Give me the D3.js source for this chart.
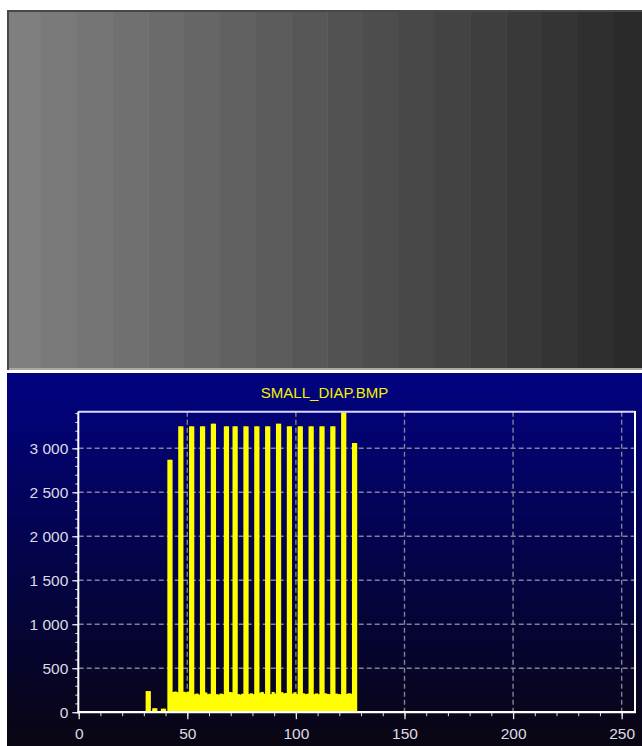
<!DOCTYPE html>
<html><head><meta charset="utf-8">
<script src="https://cdn.jsdelivr.net/npm/d3@7"></script>
<style>html,body{margin:0;padding:0;background:#fff;overflow:hidden}svg{display:block}</style>
</head><body>
<svg id="c" width="642" height="746"></svg>
<script>
// ---- data ----
const bandGray = [127,122,117,112,107,102,97,92,87,82,77,72,67,62,57,52,47,42];
const chartTitle = "SMALL_DIAP.BMP";
const binStart = 31;
const counts = [
  240,240,0,45,45,0,0,40,40,0,            // 31-40
  2870,2870,230,235,228,3250,3250,232,226,234, // 41-50
  3250,3250,205,212,200,3250,3250,225,205,210, // 51-60
  3280,3280,205,200,212,205,3250,3250,230,226, // 61-70
  3250,3250,205,200,210,3250,3250,208,215,205, // 71-80
  3250,3250,222,230,210,3250,3250,205,230,212, // 81-90
  3280,3280,228,214,218,3250,3250,212,226,205, // 91-100
  3250,3250,215,205,210,3250,3250,206,214,205, // 101-110
  3250,3250,215,208,205,3250,3250,212,206,204, // 111-120
  3410,3410,208,215,210,3060,3060              // 121-127
];
const yTickValues = [0,500,1000,1500,2000,2500,3000];
const yTickLabels = ["0","500","1 000","1 500","2 000","2 500","3 000"];
const xTickValues = [0,50,100,150,200,250];
const xTickLabels = ["0","50","100","150","200","250"];

const hist = counts.map((c,i)=>({bin: binStart+i, count: c}));

const svg = d3.select("#c");
const defs = svg.append("defs");

// ---- top image (gray bands) ----
defs.append("clipPath").attr("id","imgclip").append("rect")
  .attr("x",9).attr("y",12).attr("width",633).attr("height",356);
const band = d3.scaleBand().domain(d3.range(bandGray.length)).range([5, 649.4]);
const img = svg.append("g").attr("clip-path","url(#imgclip)");
img.selectAll("rect").data(bandGray).join("rect")
  .attr("x",(d,i)=>band(i)).attr("y",12)
  .attr("width",band.bandwidth()+0.5).attr("height",356)
  .attr("fill",d=>d3.rgb(d,d,d));
svg.append("rect").attr("x",7).attr("y",10).attr("width",635).attr("height",2).attr("fill","#484848");
svg.append("rect").attr("x",7).attr("y",10).attr("width",2).attr("height",360).attr("fill","#484848");
svg.append("rect").attr("x",9).attr("y",368).attr("width",633).attr("height",2).attr("fill","#a8a8a8");

// ---- histogram panel ----
const grad = defs.append("linearGradient").attr("id","bg").attr("x1",0).attr("y1",0).attr("x2",0).attr("y2",1);
grad.append("stop").attr("offset","0").attr("stop-color","#020282");
grad.append("stop").attr("offset","0.6").attr("stop-color","#04043e");
grad.append("stop").attr("offset","1").attr("stop-color","#0a0612");
svg.append("rect").attr("x",7).attr("y",373).attr("width",635).attr("height",373).attr("fill","url(#bg)");

svg.append("text").attr("x",324.5).attr("y",398).attr("text-anchor","middle")
  .attr("font-family","'Liberation Sans', Arial, sans-serif").attr("font-size",15)
  .attr("fill","#f4f400").text(chartTitle);

const x = d3.scaleLinear().domain([0,256]).range([78.7,634.7]);
const y = d3.scaleLinear().domain([0,3415]).range([712.2,411.8]);

// grid
const grid = svg.append("g").attr("stroke","#80809a").attr("stroke-width",1.4).attr("stroke-dasharray","5,3");
grid.selectAll("line.h").data(yTickValues.filter(v=>v>0)).join("line").attr("class","h")
  .attr("x1",x(0)).attr("x2",x(256)).attr("y1",d=>y(d)).attr("y2",d=>y(d));
grid.selectAll("line.v").data(xTickValues.filter(v=>v>0)).join("line").attr("class","v")
  .attr("y1",y(3415)).attr("y2",y(0)).attr("x1",d=>x(d)).attr("x2",d=>x(d));

// bars
svg.append("g").selectAll("rect").data(hist.filter(d=>d.count>0)).join("rect")
  .attr("x",d=>x(d.bin)-0.4).attr("width",d=>x(d.bin+1)-x(d.bin)+0.9)
  .attr("y",d=>y(d.count)).attr("height",d=>y(0)-y(d.count))
  .attr("fill","#ffff00");

// frame
svg.append("line").attr("x1",78.3).attr("x2",635).attr("y1",411.8).attr("y2",411.8).attr("stroke","#d8d8ff").attr("stroke-width",2);
svg.append("line").attr("x1",635).attr("x2",635).attr("y1",411).attr("y2",713).attr("stroke","#ffffff").attr("stroke-width",2);

const font = "'Liberation Sans', Arial, sans-serif";
// y axis
const yMinor = d3.axisLeft(y).tickValues(d3.range(0,3401,100)).tickSize(3).tickFormat("");
svg.append("g").attr("transform","translate(78.3,0)").call(yMinor)
  .call(g=>g.select(".domain").remove()).selectAll("line").attr("stroke","#e0e0e0").attr("stroke-width",1);
const yAxis = d3.axisLeft(y).tickValues(yTickValues).tickSize(6).tickPadding(4)
  .tickFormat((d,i)=>yTickLabels[i]);
const ya = svg.append("g").attr("transform","translate(78.3,0)").call(yAxis);
ya.select(".domain").attr("stroke","#ffffff").attr("stroke-width",2).attr("d",`M0,${y(3415)-0.4}V${y(0)+1}`);
ya.selectAll("line").attr("stroke","#e8e8e8").attr("stroke-width",1.3);
ya.selectAll("text").attr("fill","#dcdce4").attr("font-family",font).attr("font-size",15.5);

// x axis
const xMinor = d3.axisBottom(x).tickValues(d3.range(0,251,10)).tickSize(4).tickFormat("");
svg.append("g").attr("transform","translate(0,712.2)").call(xMinor)
  .call(g=>g.select(".domain").remove()).selectAll("line").attr("stroke","#e0e0e0").attr("stroke-width",1);
const xAxis = d3.axisBottom(x).tickValues(xTickValues).tickSize(7)
  .tickFormat((d,i)=>xTickLabels[i]);
const xa = svg.append("g").attr("transform","translate(0,712.2)").call(xAxis);
xa.select(".domain").attr("stroke","#ffffff").attr("stroke-width",2.2).attr("d",`M${x(0)-1.4},0H${x(256)+1}`);
xa.selectAll("line").attr("stroke","#e8e8e8").attr("stroke-width",1.3);
xa.selectAll("text").attr("fill","#dcdce4").attr("font-family",font).attr("font-size",15.5)
  .attr("y",26.5).attr("dy",0);
</script>
</body></html>
